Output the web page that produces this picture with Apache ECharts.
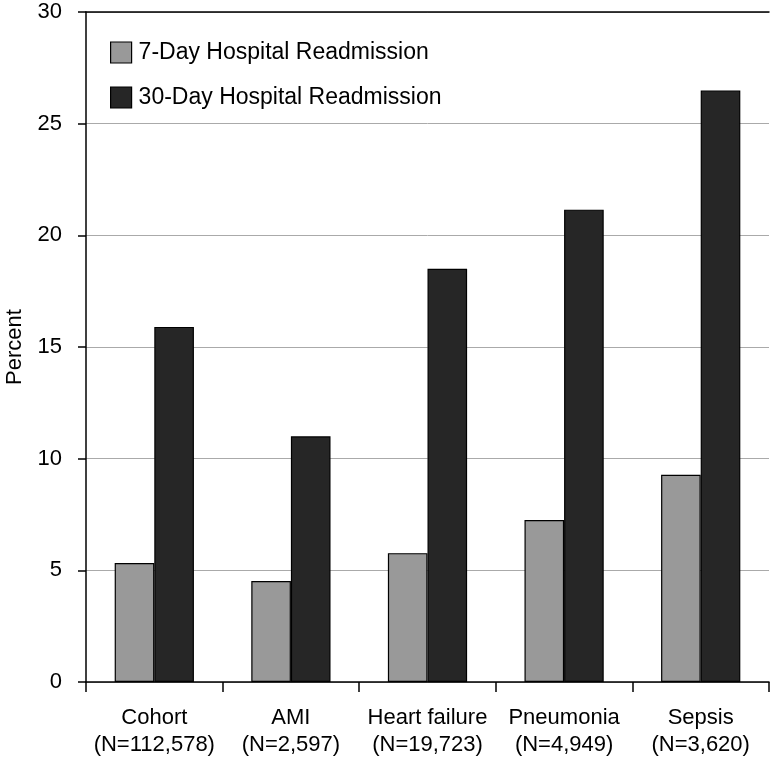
<!DOCTYPE html>
<html>
<head>
<meta charset="utf-8">
<script src="https://cdn.jsdelivr.net/npm/echarts@6/dist/echarts.min.js"></script>
<style>
  html, body { margin: 0; padding: 0; background: #fff; }
  #chart { width: 773px; height: 757px; }
</style>
</head>
<body>
<div id="chart"></div>
<script>
// data
var categories = ['Cohort\n(N=112,578)', 'AMI\n(N=2,597)', 'Heart failure\n(N=19,723)', 'Pneumonia\n(N=4,949)', 'Sepsis\n(N=3,620)'];
var day7 = [5.33, 4.52, 5.77, 7.25, 9.28];
var day30 = [15.9, 11.0, 18.5, 21.15, 26.48];
var yTicks = [0, 5, 10, 15, 20, 25, 30];

var font = 'Liberation Sans, Arial, Helvetica, sans-serif';
var myChart = echarts.init(document.getElementById('chart'));

var options = {
    backgroundColor: '#fff',
    animation: false,
    textStyle: {fontFamily: font, color: '#000'},
    grid: {left: 86, right: 4, top: 12, bottom: 75, outerBoundsMode: 'none', containLabel: false},
    legend: {
        orient: 'vertical',
        left: 110,
        top: 41,
        padding: 0,
        icon: 'rect',
        itemWidth: 21,
        itemHeight: 21,
        itemGap: 22,
        textStyle: {fontSize: 23, color: '#000', fontFamily: font, padding: [0, 0, 0, 2]},
        itemStyle: {borderColor: '#000', borderWidth: 1.2},
        data: ['7-Day Hospital Readmission', '30-Day Hospital Readmission']
    },
    xAxis: [{
        type: 'category',
        data: categories,
        axisLine: {lineStyle: {color: '#000', width: 1.5}},
        axisTick: {show: true, interval: 0, length: 10, lineStyle: {color: '#000', width: 1.5}},
        axisLabel: {interval: 0, fontSize: 22, color: '#000', lineHeight: 27, margin: 22, fontFamily: font},
        splitLine: {show: false}
    }, {
        // top frame line
        type: 'category',
        position: 'top',
        data: categories,
        axisLine: {lineStyle: {color: '#000', width: 1.5}},
        axisTick: {show: false},
        axisLabel: {show: false}
    }],
    yAxis: {
        type: 'value',
        min: 0,
        max: yTicks[yTicks.length - 1],
        interval: yTicks[1] - yTicks[0],
        name: 'Percent',
        nameLocation: 'middle',
        nameGap: 60,
        nameTextStyle: {fontSize: 22, color: '#000', fontFamily: font},
        axisLine: {show: true, lineStyle: {color: '#000', width: 1.5}},
        axisTick: {show: true, length: 8, lineStyle: {color: '#000', width: 1.5}},
        axisLabel: {fontSize: 22, color: '#000', margin: 24, fontFamily: font},
        splitLine: {show: true, lineStyle: {color: '#aaaaaa', width: 1}}
    },
    series: [{
        name: '7-Day Hospital Readmission',
        type: 'bar',
        data: day7,
        barGap: '0%',
        barCategoryGap: '42%',
        itemStyle: {color: '#999999', borderColor: '#000', borderWidth: 1.2}
    }, {
        name: '30-Day Hospital Readmission',
        type: 'bar',
        data: day30,
        itemStyle: {color: '#262626', borderColor: '#000', borderWidth: 1.2}
    }]
};

myChart.setOption(options);
</script>
</body>
</html>
